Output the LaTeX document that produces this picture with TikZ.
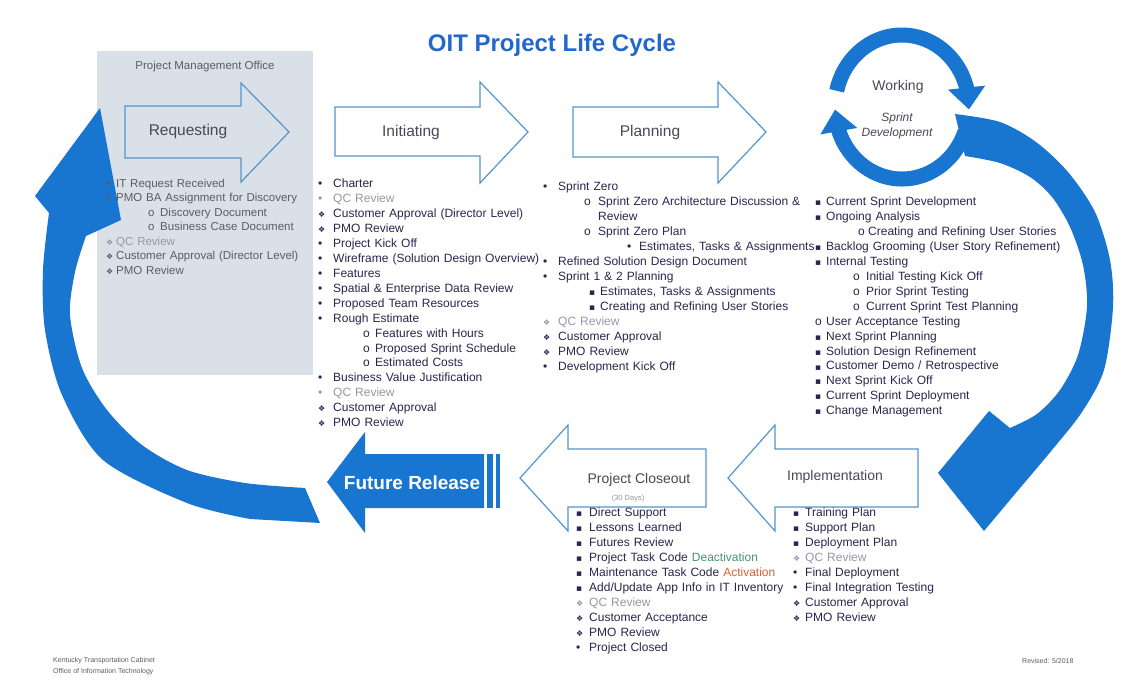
\documentclass[tikz,border=0pt]{standalone}
\usepackage{fontspec}
\setmainfont{Liberation Sans}
\newfontfamily\symfont{DejaVu Sans}
\usetikzlibrary{arrows.meta,bending}
\definecolor{cycleblue}{RGB}{24, 118, 208}
\definecolor{titleblue}{RGB}{34, 104, 204}
\definecolor{outlineblue}{RGB}{84, 150, 204}
\definecolor{pmogray}{RGB}{218, 224, 232}
\definecolor{phasetext}{RGB}{72, 72, 88}
\definecolor{listtext}{RGB}{40, 38, 78}
\definecolor{qcgray}{RGB}{150, 152, 162}
\definecolor{pmotext}{RGB}{92, 92, 104}
\definecolor{deactgreen}{RGB}{70, 150, 110}
\definecolor{actorange}{RGB}{222, 96, 52}

\newlength{\bulw}
\newcommand{\bitem}[1]{\makebox[\bulw][l]{\textbullet}#1}
\newcommand{\ditem}[1]{\makebox[\bulw][l]{{\symfont\fontsize{8}{8}\selectfont ❖}}#1}
\newcommand{\sitem}[1]{\makebox[\bulw][l]{{\symfont\fontsize{9}{9}\selectfont ▪}}#1}
\newcommand{\oitem}[3]{\hspace*{#1}\makebox[#2][l]{o}#3}

\begin{document}
\begin{tikzpicture}[x=1pt, y=-1pt,
    phasearrow/.style={draw=outlineblue, line width=1.2pt, fill=white, line join=miter},
    phaselabel/.style={text=phasetext, font=\fontsize{15.5}{18}\selectfont},
    listnode/.style={anchor=base west, inner sep=0pt, align=left, text width=280pt,
                     text=listtext, font=\fontsize{12}{15}\selectfont},
    footnote/.style={anchor=base west, inner sep=0pt, text=pmotext, font=\fontsize{7}{8}\selectfont}]
            % Frame to ensure alignment:
            \useasboundingbox[fill=white]                      (0, 0)   rectangle (1146, 682);
            \fill[pmogray]                                     (97, 51) rectangle (313, 375);

            % big cycle arrows
            \fill[cycleblue] (35,196) -- (100,108) -- (121,220)
                 -- plot[smooth] coordinates {(86,236) (75,272) (70,315) (82,368) (107,410) (142,445) (187,470) (245,483) (305,488)}
                 -- (320,523)
                 -- plot[smooth] coordinates {(250,519) (187,503) (103,460) (62,395) (45,330) (43,270) (49,213)}
                 -- cycle;
            \fill[cycleblue] plot[smooth] coordinates {(955,114) (1000,122) (1036,142) (1068,172) (1095,212) (1110,260) (1113,307) (1104,370) (1082,412) (1052,450) (1020,488)}
                 -- (984,531) -- (938,473) -- (989,411)
                 -- plot[smooth] coordinates {(1010,428) (1037,414) (1060,390) (1078,355) (1087,307) (1083,265) (1070,227) (1052,197) (1030,177) (1000,163) (965,156)}
                 -- cycle;
            \draw[cycleblue, line width=15pt, -{Triangle[width=36pt, length=22pt]}]
                 (902,107) ++(193:67 and 72) arc[start angle=193, end angle=362, x radius=67, y radius=72];
            \draw[cycleblue, line width=15pt, -{Triangle[width=36pt, length=22pt]}]
                 (902,107) ++(20:67 and 72) arc[start angle=20, end angle=178, x radius=67, y radius=72];

            % phase arrows
            \draw[phasearrow, fill=none] (125,106) -- (241,106) -- (241,83)  -- (289,132) -- (241,182) -- (241,158) -- (125,158) -- cycle;
            \draw[phasearrow]            (335,107) -- (480,107) -- (480,82)  -- (528,132) -- (480,183) -- (480,156) -- (335,156) -- cycle;
            \draw[phasearrow]            (573,107) -- (718,107) -- (718,82)  -- (766,132) -- (718,183) -- (718,157) -- (573,157) -- cycle;
            \draw[phasearrow]            (918,449) -- (775,449) -- (775,425) -- (728,478) -- (775,531) -- (775,507) -- (918,507) -- cycle;
            \draw[phasearrow]            (706,449) -- (568,449) -- (568,425) -- (520,478) -- (568,531) -- (568,507) -- (706,507) -- cycle;
            \fill[cycleblue]             (327,482) -- (365,432) -- (365,454) -- (484,454) -- (484,508) -- (365,508) -- (365,533) -- cycle;
            \fill[cycleblue]             (487,454) rectangle (493,508);
            \fill[cycleblue]             (496,454) rectangle (500,508);

            % labels
            \node[text=titleblue, font=\fontsize{24}{28}\selectfont\bfseries] (title) at (552,45) {OIT Project Life Cycle};
            \node[text=pmotext, font=\fontsize{11.5}{14}\selectfont] (pmo) at (205,67) {Project Management Office};
            \node[phaselabel] (req)  at (188,131) {Requesting};
            \node[phaselabel] (init) at (411,132) {Initiating};
            \node[phaselabel] (plan) at (650,132) {Planning};
            \node[phaselabel, font=\fontsize{14}{17}\selectfont] (impl)  at (835,477) {Implementation};
            \node[phaselabel, font=\fontsize{14}{17}\selectfont] (close) at (639,480) {Project Closeout};
            \node[text=qcgray, font=\fontsize{7.5}{9}\selectfont] (days) at (628,499) {(30 Days)};
            \node[text=white, font=\fontsize{19}{22}\selectfont\bfseries] (future) at (412,483) {Future Release};
            \node[phaselabel, font=\fontsize{14}{17}\selectfont] (work) at (898,87) {Working};
            \node[phaselabel, font=\fontsize{12}{15}\selectfont\itshape, align=center] (sprint) at (897,126) {Sprint\\Development};

            % lists
            \node[listnode, text=pmotext, text width=210pt, font=\fontsize{11.5}{14.5}\selectfont,
                  execute at begin node=\setlength{\bulw}{10pt}] (reqlist) at (106,187) {%
                 \bitem{IT Request Received}\\
                 \bitem{PMO BA Assignment for Discovery}\\
                 \oitem{42pt}{12pt}{Discovery Document}\\
                 \oitem{42pt}{12pt}{Business Case Document}\\
                 \textcolor{qcgray}{\ditem{QC Review}}\\
                 \ditem{Customer Approval (Director Level)}\\
                 \ditem{PMO Review}};
            \node[listnode, execute at begin node=\setlength{\bulw}{15pt}] (initlist) at (318,187) {%
                 \bitem{Charter}\\
                 \textcolor{qcgray}{\bitem{QC Review}}\\
                 \ditem{Customer Approval (Director Level)}\\
                 \ditem{PMO Review}\\
                 \bitem{Project Kick Off}\\
                 \bitem{Wireframe (Solution Design Overview)}\\
                 \bitem{Features}\\
                 \bitem{Spatial \& Enterprise Data Review}\\
                 \bitem{Proposed Team Resources}\\
                 \bitem{Rough Estimate}\\
                 \oitem{45pt}{12pt}{Features with Hours}\\
                 \oitem{45pt}{12pt}{Proposed Sprint Schedule}\\
                 \oitem{45pt}{12pt}{Estimated Costs}\\
                 \bitem{Business Value Justification}\\
                 \textcolor{qcgray}{\bitem{QC Review}}\\
                 \ditem{Customer Approval}\\
                 \ditem{PMO Review}};
            \node[listnode, text width=330pt, execute at begin node=\setlength{\bulw}{15pt}] (planlist) at (543,190) {%
                 \bitem{Sprint Zero}\\
                 \oitem{41pt}{14pt}{Sprint Zero Architecture Discussion \&}\\
                 \hspace*{55pt}Review\\
                 \oitem{41pt}{14pt}{Sprint Zero Plan}\\
                 \hspace*{84pt}\makebox[12pt][l]{\textbullet}Estimates, Tasks \& Assignments\\
                 \bitem{Refined Solution Design Document}\\
                 \bitem{Sprint 1 \& 2 Planning}\\
                 \hspace*{46pt}\makebox[11pt][l]{{\symfont\fontsize{9}{9}\selectfont ▪}}Estimates, Tasks \& Assignments\\
                 \hspace*{46pt}\makebox[11pt][l]{{\symfont\fontsize{9}{9}\selectfont ▪}}Creating and Refining User Stories\\
                 \textcolor{qcgray}{\ditem{QC Review}}\\
                 \ditem{Customer Approval}\\
                 \ditem{PMO Review}\\
                 \bitem{Development Kick Off}};
            \node[listnode, execute at begin node=\setlength{\bulw}{11pt}] (worklist) at (815,205) {%
                 \sitem{Current Sprint Development}\\
                 \sitem{Ongoing Analysis}\\
                 \oitem{43pt}{10pt}{Creating and Refining User Stories}\\
                 \sitem{Backlog Grooming (User Story Refinement)}\\
                 \sitem{Internal Testing}\\
                 \oitem{38pt}{13pt}{Initial Testing Kick Off}\\
                 \oitem{38pt}{13pt}{Prior Sprint Testing}\\
                 \oitem{38pt}{13pt}{Current Sprint Test Planning}\\
                 \oitem{0pt}{11pt}{User Acceptance Testing}\\
                 \sitem{Next Sprint Planning}\\
                 \sitem{Solution Design Refinement}\\
                 \sitem{Customer Demo / Retrospective}\\
                 \sitem{Next Sprint Kick Off}\\
                 \sitem{Current Sprint Deployment}\\
                 \sitem{Change Management}};
            \node[listnode, execute at begin node=\setlength{\bulw}{12pt}] (impllist) at (793,516) {%
                 \sitem{Training Plan}\\
                 \sitem{Support Plan}\\
                 \sitem{Deployment Plan}\\
                 \textcolor{qcgray}{\ditem{QC Review}}\\
                 \bitem{Final Deployment}\\
                 \bitem{Final Integration Testing}\\
                 \ditem{Customer Approval}\\
                 \ditem{PMO Review}};
            \node[listnode, execute at begin node=\setlength{\bulw}{13pt}] (closelist) at (576,516) {%
                 \sitem{Direct Support}\\
                 \sitem{Lessons Learned}\\
                 \sitem{Futures Review}\\
                 \sitem{Project Task Code \textcolor{deactgreen}{Deactivation}}\\
                 \sitem{Maintenance Task Code \textcolor{actorange}{Activation}}\\
                 \sitem{Add/Update App Info in IT Inventory}\\
                 \textcolor{qcgray}{\ditem{QC Review}}\\
                 \ditem{Customer Acceptance}\\
                 \ditem{PMO Review}\\
                 \bitem{Project Closed}};

            % footer
            \node[footnote] (cabinet) at (53,662)   {Kentucky Transportation Cabinet};
            \node[footnote] (office)  at (53,673)   {Office of Information Technology};
            \node[footnote] (revised) at (1022,663) {Revised: 5/2018};
\end{tikzpicture}
\end{document}
